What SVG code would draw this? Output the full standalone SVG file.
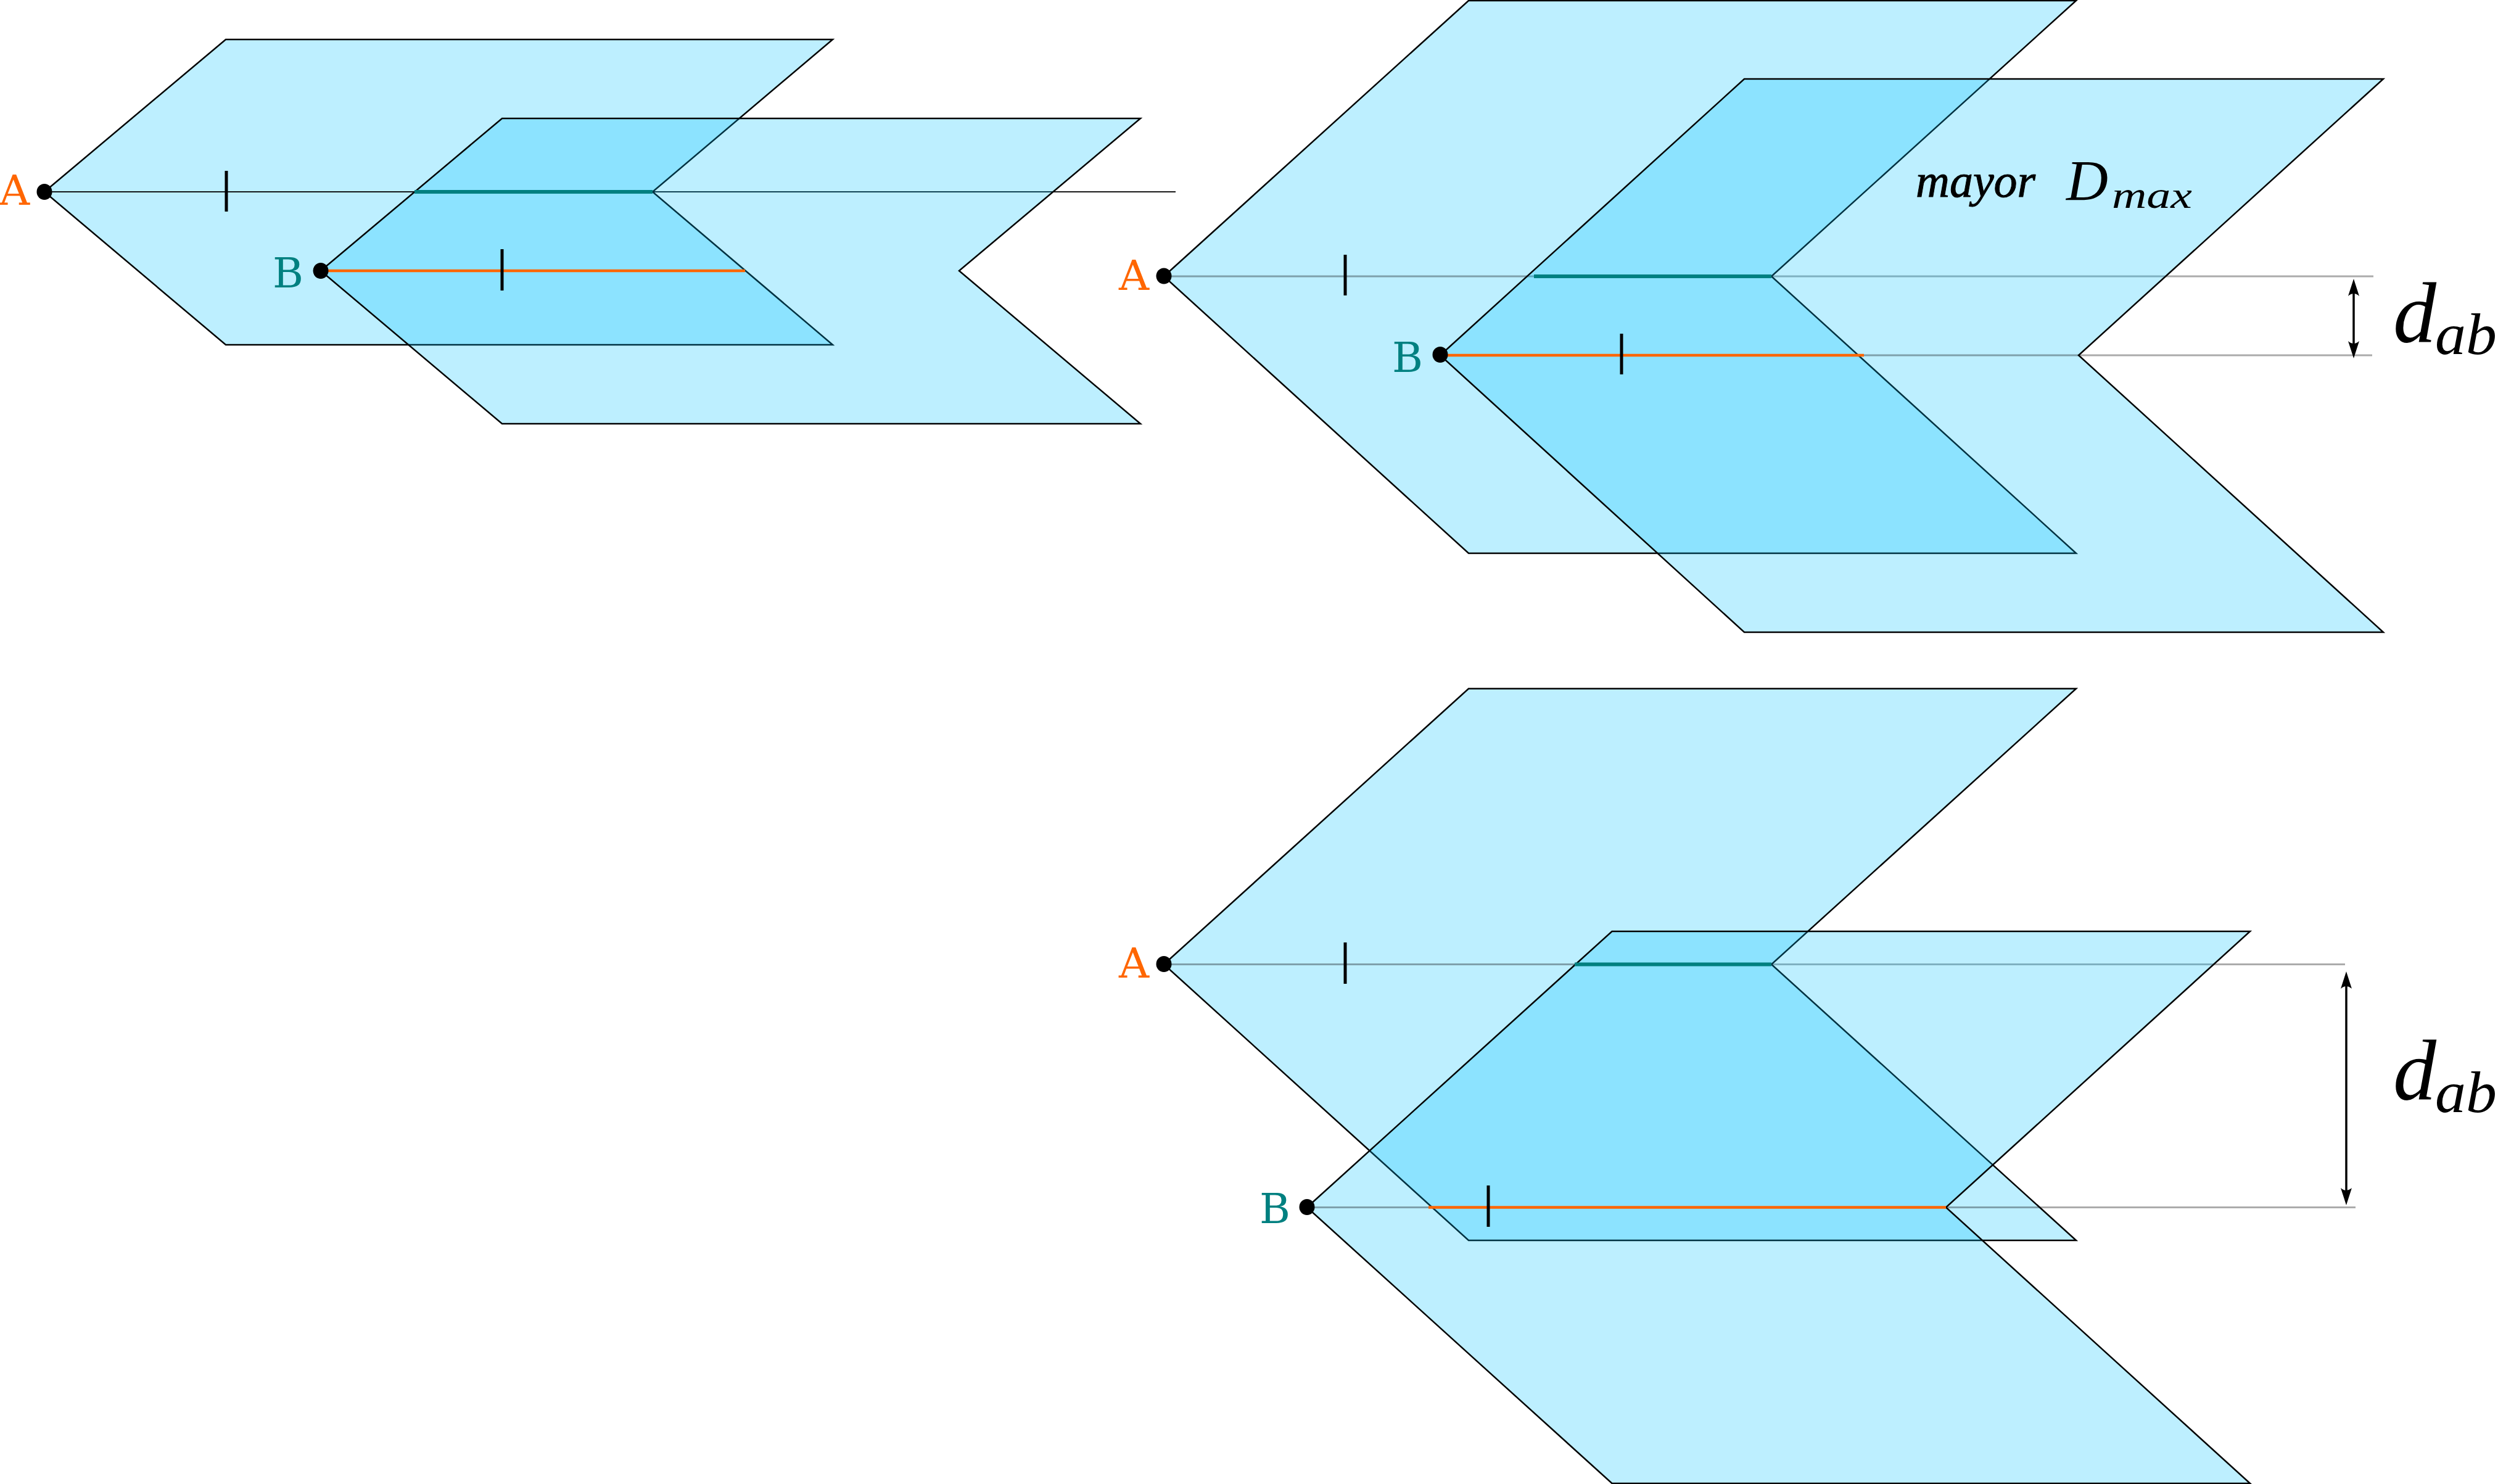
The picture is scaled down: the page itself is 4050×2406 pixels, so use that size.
<svg xmlns="http://www.w3.org/2000/svg" width="4050" height="2406" viewBox="0 0 4050 2406">
<style>
.plane{fill:#00c0ff;fill-opacity:.26;stroke:none}
.edge{fill:none;stroke:#000;stroke-width:2.5;stroke-linejoin:miter}
.ref1{stroke:#000;stroke-opacity:.9;stroke-width:2.2}
.ref{stroke:#000;stroke-opacity:.33;stroke-width:3}
.teal{stroke:#008080;stroke-width:6}
.orange{stroke:#ff6600;stroke-width:4.5}
.tick{stroke:#000;stroke-width:5}
.dim{stroke:#000;stroke-width:3.5;marker-start:url(#head);marker-end:url(#head)}
.pt{font-family:"DejaVu Serif",serif;font-size:68px}
.a{fill:#ff6600}.b{fill:#008080}
.m{font-family:"Liberation Serif",serif;font-style:italic;fill:#000}
</style>
<defs>
<marker id="head" markerUnits="userSpaceOnUse" markerWidth="30" markerHeight="20" refX="20" refY="10" orient="auto-start-reverse">
<path d="M30,10 L2,1 Q10,10 2,19 Z" fill="#000"/>
</marker>
</defs>
<rect width="4050" height="2406" fill="#fff"/>

<g id="panel-1">
<path class="plane" d="M72,311 366,64 1350,64 1058,311 1350,559 366,559Z"/>
<path class="edge" d="M72,311 366,64 1350,64 1058,311 1350,559 366,559Z"/>
<line class="ref1" x1="72" y1="311" x2="1906" y2="311"/>
<path class="plane" d="M520,439 814,192 1849,192 1555,439 1849,687 814,687Z"/>
<path class="edge" d="M520,439 814,192 1849,192 1555,439 1849,687 814,687Z"/>
<line class="teal" x1="672" y1="311" x2="1058" y2="311"/>
<line class="orange" x1="520" y1="439" x2="1208" y2="439"/>
<line class="tick" x1="367" y1="277" x2="367" y2="343"/>
<line class="tick" x1="814" y1="404" x2="814" y2="471"/>
<ellipse cx="72" cy="311" rx="12.5" ry="13"/>
<ellipse cx="520" cy="439" rx="12.5" ry="13"/>
<text class="pt a" x="-1" y="332">A</text>
<text class="pt b" x="442" y="466">B</text>
</g>

<g id="panel-2">
<path class="plane" d="M1887,448 2381,1 3366,1 2872,448 3366,897 2381,897Z"/>
<path class="edge" d="M1887,448 2381,1 3366,1 2872,448 3366,897 2381,897Z"/>
<line class="ref" x1="1887" y1="448" x2="3848" y2="448"/>
<path class="plane" d="M2335,576 2828,128 3864,128 3370,576 3864,1025 2828,1025Z"/>
<path class="edge" d="M2335,576 2828,128 3864,128 3370,576 3864,1025 2828,1025Z"/>
<line class="ref" x1="2335" y1="576" x2="3846" y2="576"/>
<line class="teal" x1="2487" y1="448" x2="2872" y2="448"/>
<line class="orange" x1="2335" y1="576" x2="3022" y2="576"/>
<line class="tick" x1="2181" y1="413" x2="2181" y2="479"/>
<line class="tick" x1="2629" y1="541" x2="2629" y2="607"/>
<ellipse cx="1887" cy="447.5" rx="12.5" ry="13"/>
<ellipse cx="2335" cy="575" rx="12.5" ry="13"/>
<text class="pt a" x="1814" y="470">A</text>
<text class="pt b" x="2257" y="603">B</text>
<line class="dim" x1="3816" y1="462" x2="3816" y2="571"/>
<text class="m" x="3106" y="319" font-size="76" stroke="#000" stroke-width="1">mayor</text>
<text class="m" x="3350" y="324" font-size="94">D</text>
<text class="m" x="3424" y="337" font-size="62" textLength="130" lengthAdjust="spacingAndGlyphs">max</text>
<text class="m" x="3880" y="555" font-size="140">d</text>
<text class="m" x="3948" y="574" font-size="96" textLength="100" lengthAdjust="spacingAndGlyphs">ab</text>
</g>

<g id="panel-3">
<path class="plane" d="M1887,1563.5 2381,1116.5 3366,1116.5 2872,1563.5 3366,2011 2381,2011Z"/>
<path class="edge" d="M1887,1563.5 2381,1116.5 3366,1116.5 2872,1563.5 3366,2011 2381,2011Z"/>
<line class="ref" x1="1887" y1="1563.5" x2="3802" y2="1563.5"/>
<path class="plane" d="M2119,1957.5 2613.5,1510 3648,1510 3155,1957.5 3648,2405 2613.5,2405Z"/>
<path class="edge" d="M2119,1957.5 2613.5,1510 3648,1510 3155,1957.5 3648,2405 2613.5,2405Z"/>
<line class="ref" x1="2119" y1="1957.5" x2="3819" y2="1957.5"/>
<line class="teal" x1="2553" y1="1563.5" x2="2872" y2="1563.5"/>
<line class="orange" x1="2316" y1="1957.5" x2="3155" y2="1957.5"/>
<line class="tick" x1="2181" y1="1528" x2="2181" y2="1595"/>
<line class="tick" x1="2413" y1="1922" x2="2413" y2="1989"/>
<ellipse cx="1887" cy="1563" rx="12.5" ry="13"/>
<ellipse cx="2119" cy="1957" rx="12.5" ry="13"/>
<text class="pt a" x="1814" y="1585">A</text>
<text class="pt b" x="2042" y="1983">B</text>
<line class="dim" x1="3804" y1="1585" x2="3804" y2="1944"/>
<text class="m" x="3880" y="1783" font-size="140">d</text>
<text class="m" x="3948" y="1803" font-size="96" textLength="100" lengthAdjust="spacingAndGlyphs">ab</text>
</g>
</svg>
